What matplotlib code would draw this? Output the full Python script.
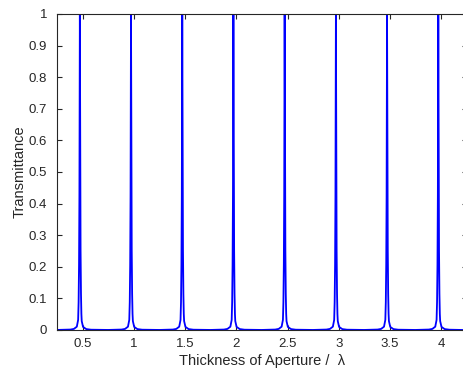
import numpy as np
import matplotlib
matplotlib.use("Agg")
import matplotlib.pyplot as plt

# Resonance peak positions (thickness / wavelength)
peak_centers = [0.473, 0.972, 1.472, 1.971, 2.471, 2.971, 3.470, 3.970]
# Shape of one resonance peak: offset from centre -> transmittance
profile_offset = [-0.25, -0.10, -0.06, -0.03, -0.017, -0.013, -0.009, -0.006, -0.004, -0.002, 0.0,
                  0.002, 0.004, 0.006, 0.009, 0.013, 0.017, 0.03, 0.06, 0.10, 0.25]
profile_value = [0.0, 0.001, 0.003, 0.010, 0.030, 0.07, 0.16, 0.30, 0.45, 0.75, 1.0,
                 0.75, 0.45, 0.30, 0.16, 0.07, 0.030, 0.010, 0.003, 0.001, 0.0]

x_ticks = [0.5, 1, 1.5, 2, 2.5, 3, 3.5, 4]
x_ticklabels = ["0.5", "1", "1.5", "2", "2.5", "3", "3.5", "4"]
y_ticks = [0, 0.1, 0.2, 0.3, 0.4, 0.5, 0.6, 0.7, 0.8, 0.9, 1]
y_ticklabels = ["0", "0.1", "0.2", "0.3", "0.4", "0.5", "0.6", "0.7", "0.8", "0.9", "1"]

plt.rcParams['font.family'] = ['Liberation Sans', 'DejaVu Sans']

x = np.linspace(0.25, 4.25, 40001)
y = np.zeros_like(x)
for c in peak_centers:
    y = np.maximum(y, np.interp(x - c, profile_offset, profile_value, left=0.0, right=0.0))

W, H = 464, 371
fig = plt.figure(figsize=(W / 100, H / 100), dpi=100)
left, right, top, bottom = 57, 467, 14, 330
ax = fig.add_axes([left / W, 1 - bottom / H, (right - left) / W, (bottom - top) / H])
ax.plot(x, y, color=(0, 0, 1), lw=1.3)

ax.set_xlim(0.25, 4.25)
ax.set_ylim(0, 1)
ax.set_xticks(x_ticks)
ax.set_xticklabels(x_ticklabels)
ax.set_yticks(y_ticks)
ax.set_yticklabels(y_ticklabels)
dark = (0.15, 0.15, 0.15)
for s in ax.spines.values():
    s.set_color(dark)
    s.set_linewidth(0.8)
ax.tick_params(direction='in', length=3.5, width=0.8, colors=dark, labelsize=9.5,
               top=True, right=True)
ax.tick_params(axis='x', pad=6)
ax.tick_params(axis='y', pad=7)
ax.set_xlabel("Thickness of Aperture /  λ", fontsize=10.5, color=dark)
ax.set_ylabel("Transmittance", fontsize=10.5, color=dark)
ax.xaxis.set_label_coords(0.5, -0.075)
ax.yaxis.set_label_coords(-0.075, 0.5)

fig.savefig("out.png", dpi=100)
